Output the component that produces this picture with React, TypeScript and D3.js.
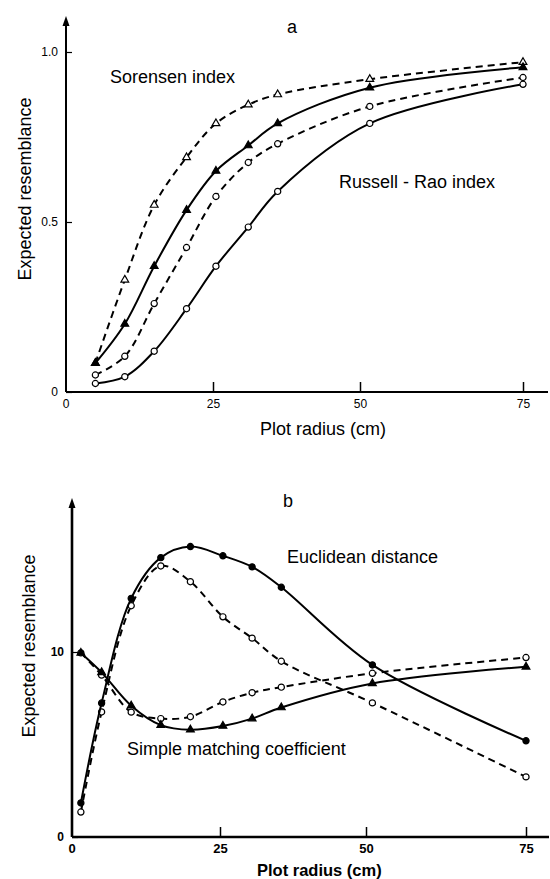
import React, { useEffect, useRef } from "react";
import * as d3 from "d3";

// panel a: plot radius (cm) and expected resemblance
const radiusA = [5, 10, 15, 20.5, 25.5, 31, 36, 51.5, 75];
const sorensenDashed = [0.085, 0.33, 0.55, 0.69, 0.79, 0.845, 0.875, 0.92, 0.97];
const sorensenSolid = [0.085, 0.2, 0.37, 0.535, 0.65, 0.725, 0.79, 0.895, 0.955];
const russellDashed = [0.05, 0.105, 0.26, 0.425, 0.575, 0.675, 0.73, 0.84, 0.925];
const russellSolid = [0.025, 0.045, 0.12, 0.245, 0.37, 0.485, 0.59, 0.79, 0.905];

// panel b
const radiusB = [1.5, 5, 10, 15, 20, 25.5, 30.5, 35.5, 51, 75];
const euclidSolid = [1.84, 7.24, 12.9, 15.1, 15.7, 15.2, 14.6, 13.5, 9.3, 5.2];
const euclidDashed = [1.35, 6.76, 12.5, 14.65, 13.8, 11.9, 10.75, 9.5, 7.25, 3.25];
const matchingSolid = [9.95, 8.9, 7.1, 6.05, 5.8, 6.0, 6.4, 7.0, 8.3, 9.2];
const matchingDashed = [9.95, 8.75, 6.75, 6.4, 6.5, 7.3, 7.8, 8.1, 8.85, 9.7];

const xTicks = [0, 25, 50, 75];
const yTicksA = [0, 0.5, 1];
const yTickLabelsA = ["0", "0.5", "1.0"];
const yTicksB = [0, 10];

const FONT = "'Liberation Sans', Arial, Helvetica, sans-serif";

type Series = { x: number[]; y: number[]; dashed: boolean; marker: "tri" | "circle"; filled: boolean };

export default function App() {
  const ref = useRef<SVGSVGElement>(null);

  useEffect(() => {
    const svg = d3.select(ref.current);
    svg.selectAll("*").remove();

    const drawPanel = (
      x: d3.ScaleLinear<number, number>,
      y: d3.ScaleLinear<number, number>,
      series: Series[],
      axisEnd: number,
      yTop: number,
      lw: number,
      yTicks: number[],
      yLabels: string[],
      bold: boolean
    ) => {
      const g = svg.append("g");
      const x0 = x(0);
      const y0 = y(0);

      // axes
      g.append("line")
        .attr("x1", x0).attr("x2", x0)
        .attr("y1", y0).attr("y2", yTop + 8)
        .attr("stroke", "#000").attr("stroke-width", lw);
      g.append("path")
        .attr("d", `M${x0},${yTop} L${x0 - 3.5},${yTop + 10} L${x0 + 3.5},${yTop + 10} Z`)
        .attr("fill", "#000");
      g.append("line")
        .attr("x1", x0).attr("x2", axisEnd)
        .attr("y1", y0).attr("y2", y0)
        .attr("stroke", "#000").attr("stroke-width", lw);

      const xAxis = d3.axisBottom(x).tickValues(xTicks.slice(1)).tickSizeInner(-10).tickSizeOuter(0).tickPadding(7);
      const gx = g.append("g").attr("transform", `translate(0,${y0})`).call(xAxis);
      gx.select(".domain").remove();
      gx.selectAll("line").attr("stroke-width", 1.5);
      gx.append("text").attr("x", x0).attr("y", 7).attr("dy", "0.71em").attr("fill", "#000").attr("text-anchor", "middle").text("0");
      gx.selectAll("text")
        .attr("font-family", FONT)
        .attr("font-size", bold ? 13 : 12)
        .attr("font-weight", bold ? "bold" : "normal");

      const yAxis = d3.axisLeft(y).tickValues(yTicks).tickSizeInner(-6).tickSizeOuter(0).tickPadding(8)
        .tickFormat((_, i) => yLabels[i]);
      const gy = g.append("g").attr("transform", `translate(${x0},0)`).call(yAxis);
      gy.select(".domain").remove();
      gy.selectAll("line").attr("stroke-width", 1.2);
      gy.selectAll("text")
        .attr("font-family", FONT)
        .attr("font-size", 12)
        .attr("font-weight", bold ? "bold" : "normal");

      series.forEach((s) => {
        const pts: [number, number][] = s.x.map((v, i) => [x(v), y(s.y[i])]);
        const line = d3.line().curve(d3.curveCatmullRom.alpha(0.5));
        g.append("path")
          .attr("d", line(pts))
          .attr("fill", "none")
          .attr("stroke", "#000")
          .attr("stroke-width", 2)
          .attr("stroke-dasharray", s.dashed ? "7,5" : null);
        const sym = d3.symbol()
          .type(s.marker === "tri" ? d3.symbolTriangle : d3.symbolCircle)
          .size(s.marker === "tri" ? 26 : 30);
        g.selectAll(null)
          .data(pts)
          .join("path")
          .attr("transform", (d) => `translate(${d[0]},${d[1]})`)
          .attr("d", sym())
          .attr("fill", s.filled ? "#000" : "#fff")
          .attr("stroke", "#000")
          .attr("stroke-width", 1.2);
      });
      return g;
    };

    // panel a
    const xA = d3.scaleLinear().domain([0, 25, 50, 75]).range([66, 213, 360, 523]);
    const yA = d3.scaleLinear().domain([0, 1]).range([392, 52]);
    const ga = drawPanel(
      xA, yA,
      [
        { x: radiusA, y: sorensenDashed, dashed: true, marker: "tri", filled: false },
        { x: radiusA, y: sorensenSolid, dashed: false, marker: "tri", filled: true },
        { x: radiusA, y: russellDashed, dashed: true, marker: "circle", filled: false },
        { x: radiusA, y: russellSolid, dashed: false, marker: "circle", filled: false },
      ],
      548, 16, 2, yTicksA, yTickLabelsA, false
    );
    const txt = (g: any, x: number, y: number, s: string, size = 18, weight = "normal", anchor = "start") =>
      g.append("text")
        .attr("x", x).attr("y", y)
        .attr("font-family", FONT)
        .attr("font-size", size)
        .attr("font-weight", weight)
        .attr("text-anchor", anchor)
        .attr("fill", "#000")
        .text(s);
    txt(ga, 292, 33, "a", 18, "normal", "middle");
    txt(ga, 110, 83, "Sorensen index");
    txt(ga, 339, 188, "Russell - Rao index");
    txt(ga, 260, 435, "Plot radius (cm)");
    txt(ga, 0, 0, "Expected resemblance", 18, "normal", "middle")
      .attr("transform", "translate(31,189) rotate(-90)");

    // panel b
    const xB = d3.scaleLinear().domain([0, 25, 50, 75]).range([72, 220, 366, 526]);
    const yB = d3.scaleLinear().domain([0, 10]).range([837, 652]);
    const gb = drawPanel(
      xB, yB,
      [
        { x: radiusB, y: euclidDashed, dashed: true, marker: "circle", filled: false },
        { x: radiusB, y: matchingDashed, dashed: true, marker: "circle", filled: false },
        { x: radiusB, y: euclidSolid, dashed: false, marker: "circle", filled: true },
        { x: radiusB, y: matchingSolid, dashed: false, marker: "tri", filled: true },
      ],
      549, 498, 2.6, yTicksB, yTicksB.map(String), true
    );
    txt(gb, 288, 507, "b", 18, "normal", "middle");
    txt(gb, 287, 563, "Euclidean distance");
    txt(gb, 127, 755, "Simple matching coefficient");
    txt(gb, 257, 876, "Plot radius (cm)", 16.5, "bold");
    txt(gb, 0, 0, "Expected resemblance", 18, "normal", "middle")
      .attr("transform", "translate(35,646) rotate(-90)");
  }, []);

  return (
    <svg
      ref={ref}
      width={550}
      height={879}
      style={{ position: "absolute", left: 0, top: 0, background: "#fff" }}
    />
  );
}
